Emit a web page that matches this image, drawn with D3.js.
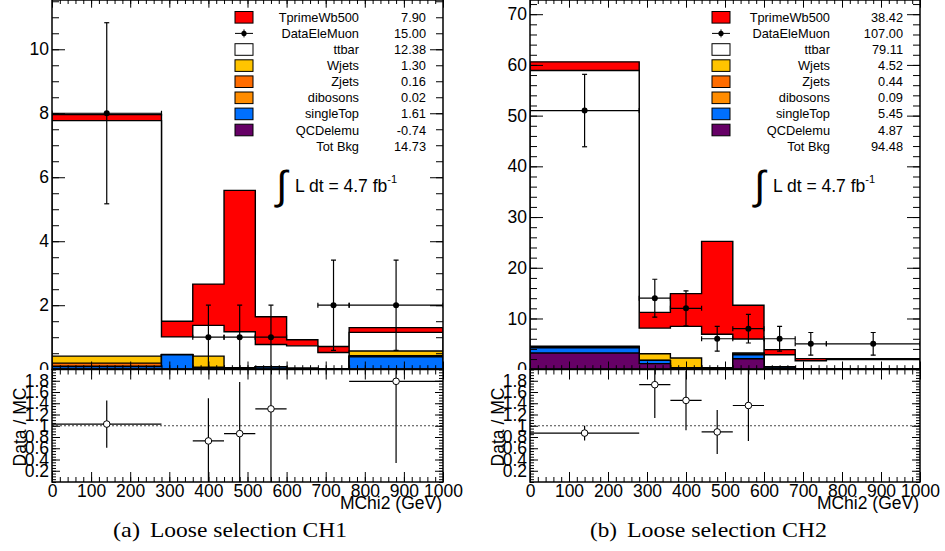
<!DOCTYPE html>
<html>
<head>
<meta charset="utf-8">
<script src="https://cdn.jsdelivr.net/npm/d3@7"></script>
<style>
  body { margin: 0; background: #fff; }
  svg text { font-family: "Liberation Sans", Arial, Helvetica, sans-serif; fill: #000; }
</style>
</head>
<body>
<svg id="chart" width="945" height="551"></svg>
<script>
// binning in MChi2 (GeV)
const binEdges = [0, 280, 360, 440, 520, 600, 680, 760, 1000]
const binCenters = [140, 320, 400, 480, 560, 640, 720, 880]

// stack order, bottom to top
const stackKeys = ["QCDelemu", "singleTop", "dibosons", "Zjets", "Wjets", "ttbar", "TprimeWb500"]

// CH1 per-bin yields
const ch1QCD       = [0, 0, 0, 0, 0, 0, 0, 0]
const ch1SingleTop = [0.08, 0.45, 0.05, 0, 0.07, 0, 0, 0.39]
const ch1Dibosons  = [0.01, 0, 0, 0, 0.01, 0, 0, 0.01]
const ch1Zjets     = [0.10, 0, 0.01, 0, 0, 0, 0, 0.02]
const ch1Wjets     = [0.22, 0.01, 0.35, 0.05, 0, 0.04, 0.01, 0.15]
const ch1Ttbar     = [7.36, 0.55, 0.96, 1.12, 0.69, 0.69, 0.51, 0.58]
const ch1Tprime    = [0.19, 0.49, 1.29, 4.42, 0.87, 0.19, 0.19, 0.15]
const ch1Data      = [8, 0, 1, 1, 1, 0, 2, 2]
const ch1DataErr   = [2.83, 0, 1, 1, 1, 0, 1.41, 1.41]
const ch1RatioX    = [140, 400, 480, 560, 880]
const ch1Ratio     = [1.03, 0.73, 0.86, 1.30, 1.79]
const ch1RatioErr  = [0.42, 0.76, 0.92, 1.30, 1.45]
const ch1Yields    = ["7.90", "15.00", "12.38", "1.30", "0.16", "0.02", "1.61", "-0.74", "14.73"]

// CH2 per-bin yields
const ch2QCD       = [3.2, 1.1, 0, 0, 2.05, 0.2, 0, 0]
const ch2SingleTop = [1.0, 0.65, 0.3, 0.1, 0.8, 0.2, 0.05, 0.05]
const ch2Dibosons  = [0.1, 0, 0, 0, 0.05, 0, 0, 0]
const ch2Zjets     = [0.15, 0, 0, 0.1, 0.1, 0, 0, 0]
const ch2Wjets     = [0.1, 1.3, 1.9, 0.1, 0.2, 0.1, 0.05, 0.05]
const ch2Ttbar     = [54.35, 5.05, 6.25, 6.6, 2.75, 2.36, 1.58, 1.8]
const ch2Tprime    = [1.7, 3.1, 6.45, 18.3, 6.65, 1.0, 0.4, 0.15]
const ch2Data      = [51, 14, 12, 6, 8, 6, 5, 5]
const ch2DataErr   = [7.14, 3.74, 3.46, 2.45, 2.83, 2.45, 2.24, 2.24]
const ch2RatioX    = [140, 320, 400, 480, 560]
const ch2Ratio     = [0.87, 1.73, 1.45, 0.89, 1.36]
const ch2RatioErr  = [0.13, 0.59, 0.53, 0.39, 0.63]
const ch2Yields    = ["38.42", "107.00", "79.11", "4.52", "0.44", "0.09", "5.45", "4.87", "94.48"]

const legendNames = ["TprimeWb500", "DataEleMuon", "ttbar", "Wjets", "Zjets", "dibosons", "singleTop", "QCDelemu", "Tot Bkg"]
const lumiText = "L dt = 4.7 fb"
const ratioTicks = [0.2, 0.4, 0.6, 0.8, 1, 1.2, 1.4, 1.6, 1.8]

const colors = {
    TprimeWb500: "#ff0000",
    ttbar: "#ffffff",
    Wjets: "#ffc400",
    Zjets: "#ff6c00",
    dibosons: "#ff8c00",
    singleTop: "#0070ff",
    QCDelemu: "#660066",
}

const svg = d3.select("svg#chart")

function buildRows(cols) {
    return binCenters.map((c, i) => {
        const row = {bin: i}
        stackKeys.forEach((k, j) => row[k] = cols[j][i])
        return row
    })
}

function drawPanel(p) {
    const zeroY = 369.2, padTop = 0
    const x = d3.scaleLinear().domain([0, 1000]).range([p.left, p.right])
    const y = d3.scaleLinear().domain([0, p.ymax]).range([zeroY, padTop])
    const yr = d3.scaleLinear().domain([0, 2]).range([482, 369.5])

    const g = svg.append("g")
    const clipId = "clip-" + p.id
    g.append("clipPath").attr("id", clipId)
        .append("rect").attr("x", p.left).attr("y", padTop)
        .attr("width", p.right - p.left).attr("height", zeroY - padTop)

    // stack: each cumulative layer drawn as a filled step outline, top first
    const series = d3.stack().keys(stackKeys)(buildRows(p.cols))
    const stepLine = d3.line().x(d => x(d[0])).y(d => y(d[1]))
    const plot = g.append("g").attr("clip-path", `url(#${clipId})`)
    series.slice().reverse().forEach(s => {
        const pts = [[binEdges[0], 0]]
        s.forEach((d, i) => {
            pts.push([binEdges[i], d[1]])
            pts.push([binEdges[i + 1], d[1]])
        })
        pts.push([binEdges[binEdges.length - 1], 0])
        plot.append("path")
            .attr("d", stepLine(pts) + "Z")
            .attr("fill", colors[s.key])
            .attr("stroke", "#000")
            .attr("stroke-width", 1.4)
    })

    // axes of the main pad (ticks inward)
    const xMajor = d3.range(0, 1001, 100), xMinor = d3.range(0, 1001, 20)
    const yMajor = d3.range(0, p.ymax, p.yStep), yMinor = d3.range(0, p.ymax, p.yMinorStep)
    const tickStyle = sel => {
        sel.select(".domain").remove()
        sel.selectAll("line").attr("stroke", "#000")
        sel.selectAll("text").attr("font-size", 17.5).attr("font-family", null)
    }
    g.append("g").attr("transform", `translate(0,${zeroY})`)
        .call(d3.axisBottom(x).tickValues(xMinor).tickSize(-4).tickFormat("")).call(tickStyle)
    g.append("g").attr("transform", `translate(0,${zeroY})`)
        .call(d3.axisBottom(x).tickValues(xMajor).tickSize(-7.7).tickFormat("")).call(tickStyle)
    g.append("g").attr("transform", `translate(0,${padTop})`)
        .call(d3.axisTop(x).tickValues(xMinor).tickSize(-4).tickFormat("")).call(tickStyle)
    g.append("g").attr("transform", `translate(0,${padTop})`)
        .call(d3.axisTop(x).tickValues(xMajor).tickSize(-7.7).tickFormat("")).call(tickStyle)
    g.append("g").attr("transform", `translate(${p.left},0)`)
        .call(d3.axisLeft(y).tickValues(yMinor).tickSize(-7).tickFormat("")).call(tickStyle)
    g.append("g").attr("transform", `translate(${p.left},0)`)
        .call(d3.axisLeft(y).tickValues(yMajor).tickSize(-13).tickPadding(3).tickFormat(d3.format("d"))).call(tickStyle)
    g.append("g").attr("transform", `translate(${p.right},0)`)
        .call(d3.axisRight(y).tickValues(yMinor).tickSize(-7).tickFormat("")).call(tickStyle)
    g.append("g").attr("transform", `translate(${p.right},0)`)
        .call(d3.axisRight(y).tickValues(yMajor).tickSize(-13).tickFormat("")).call(tickStyle)
    g.append("rect").attr("x", p.left).attr("y", padTop)
        .attr("width", p.right - p.left).attr("height", zeroY - padTop)
        .attr("fill", "none").attr("stroke", "#000").attr("stroke-width", 1.5)

    // data points
    const dataG = g.append("g").attr("clip-path", `url(#${clipId})`)
        .attr("stroke", "#000").attr("stroke-width", 1.2)
    p.data.forEach((v, i) => {
        if (v <= 0) return
        const e = p.dataErr[i], cx = x(binCenters[i]), cy = y(v)
        const x0 = x(binEdges[i]), x1 = x(binEdges[i + 1])
        const y0 = y(Math.max(0, v - e)), y1 = y(v + e)
        dataG.append("line").attr("x1", x0).attr("x2", x1).attr("y1", cy).attr("y2", cy)
        dataG.append("line").attr("x1", cx).attr("x2", cx).attr("y1", y0).attr("y2", y1)
        dataG.append("line").attr("x1", cx - 2.5).attr("x2", cx + 2.5).attr("y1", y1).attr("y2", y1)
        if (v - e > 0) dataG.append("line").attr("x1", cx - 2.5).attr("x2", cx + 2.5).attr("y1", y0).attr("y2", y0)
        dataG.append("line").attr("x1", x0).attr("x2", x0).attr("y1", cy - 2.5).attr("y2", cy + 2.5)
        dataG.append("line").attr("x1", x1).attr("x2", x1).attr("y1", cy - 2.5).attr("y2", cy + 2.5)
        dataG.append("circle").attr("cx", cx).attr("cy", cy).attr("r", 3).attr("fill", "#000").attr("stroke", "none")
    })

    // legend
    const leg = g.append("g")
    legendNames.forEach((name, i) => {
        const ry = 17.3 + i * 16.1
        if (i === 1) {
            leg.append("line").attr("x1", p.legX).attr("x2", p.legX + 18).attr("y1", ry).attr("y2", ry).attr("stroke", "#000")
            leg.append("line").attr("x1", p.legX + 9).attr("x2", p.legX + 9).attr("y1", ry - 4).attr("y2", ry + 4).attr("stroke", "#000")
            leg.append("circle").attr("cx", p.legX + 9).attr("cy", ry).attr("r", 2.6).attr("fill", "#000")
        } else if (i < 8) {
            leg.append("rect").attr("x", p.legX).attr("y", ry - 5.8).attr("width", 18).attr("height", 11.6)
                .attr("fill", colors[name]).attr("stroke", "#000").attr("stroke-width", 1)
        }
        leg.append("text").attr("x", p.legNameX).attr("y", ry + 4.5).attr("text-anchor", "end")
            .attr("font-size", 12.8).attr("fill", "#111").text(name)
        leg.append("text").attr("x", p.legValX).attr("y", ry + 4.5).attr("text-anchor", "end")
            .attr("font-size", 12.8).attr("fill", "#111").text(p.yields[i])
    })

    // luminosity label
    g.append("text").attr("x", p.lumiX - 19).attr("y", 199).attr("font-size", 40)
        .attr("font-family", "DejaVu Sans").text("\u222B")
    const lt = g.append("text").attr("x", p.lumiX).attr("y", 192).attr("font-size", 17.5)
    lt.append("tspan").text(lumiText)
    lt.append("tspan").attr("dy", -9).attr("font-size", 11).text("-1")

    // ratio pad
    const r = svg.append("g")
    r.append("rect").attr("x", p.left - 55).attr("y", 369.9).attr("width", p.right - p.left + 80).attr("height", 130).attr("fill", "#fff")
    const rClip = "rclip-" + p.id
    r.append("clipPath").attr("id", rClip)
        .append("rect").attr("x", p.left).attr("y", 369.5).attr("width", p.right - p.left).attr("height", 482 - 369.5)

    r.append("line").attr("x1", p.left).attr("x2", p.right).attr("y1", yr(1)).attr("y2", yr(1))
        .attr("stroke", "#444").attr("stroke-width", 1).attr("stroke-dasharray", "2,2")

    const rMinor = d3.range(0, 2.001, 0.05)
    r.append("g").attr("transform", "translate(0,482)")
        .call(d3.axisBottom(x).tickValues(xMinor).tickSize(-5).tickFormat("")).call(tickStyle)
    r.append("g").attr("transform", "translate(0,482)")
        .call(d3.axisBottom(x).tickValues(xMajor).tickSize(-10).tickPadding(3).tickFormat(d3.format("d"))).call(tickStyle)
    r.append("g").attr("transform", "translate(0,369.5)")
        .call(d3.axisTop(x).tickValues(xMinor).tickSize(-5).tickFormat("")).call(tickStyle)
    r.append("g").attr("transform", "translate(0,369.5)")
        .call(d3.axisTop(x).tickValues(xMajor).tickSize(-10).tickFormat("")).call(tickStyle)
    r.append("g").attr("transform", `translate(${p.left},0)`)
        .call(d3.axisLeft(yr).tickValues(rMinor).tickSize(-4).tickFormat("")).call(tickStyle)
    r.append("g").attr("transform", `translate(${p.left},0)`)
        .call(d3.axisLeft(yr).tickValues(ratioTicks).tickSize(-8).tickPadding(3).tickFormat(d => String(+d.toFixed(1)))).call(tickStyle)
    r.append("g").attr("transform", `translate(${p.right},0)`)
        .call(d3.axisRight(yr).tickValues(rMinor).tickSize(-4).tickFormat("")).call(tickStyle)
    r.append("g").attr("transform", `translate(${p.right},0)`)
        .call(d3.axisRight(yr).tickValues(ratioTicks).tickSize(-8).tickFormat("")).call(tickStyle)
    r.append("rect").attr("x", p.left).attr("y", 369.5).attr("width", p.right - p.left).attr("height", 482 - 369.5)
        .attr("fill", "none").attr("stroke", "#000").attr("stroke-width", 1.5)

    const rp = r.append("g").attr("clip-path", `url(#${rClip})`).attr("stroke", "#000").attr("stroke-width", 1.2)
    p.ratioX.forEach((c, i) => {
        const b = d3.bisectRight(binEdges, c) - 1
        const v = p.ratio[i], e = p.ratioErr[i]
        const cx = x(c), cy = yr(v)
        rp.append("line").attr("x1", x(binEdges[b])).attr("x2", x(binEdges[b + 1])).attr("y1", cy).attr("y2", cy)
        rp.append("line").attr("x1", cx).attr("x2", cx).attr("y1", yr(Math.max(0, v - e))).attr("y2", yr(v + e))
        rp.append("circle").attr("cx", cx).attr("cy", cy).attr("r", 3.3).attr("fill", "#fff").attr("stroke-width", 1)
    })

    r.append("text").attr("transform", `translate(${p.left - 26},427) rotate(-90)`)
        .attr("text-anchor", "middle").attr("font-size", 17.5).text("Data / MC")
    r.append("text").attr("x", p.right - 1).attr("y", 509).attr("text-anchor", "end")
        .attr("font-size", 17.5).text("MChi2 (GeV)")

    // sub-figure caption
    const cap = svg.append("g")
    cap.append("text").attr("x", p.capX).attr("y", 537).attr("font-size", 21)
        .style("font-family", "Liberation Serif, Times New Roman, serif")
        .attr("textLength", 27).attr("lengthAdjust", "spacingAndGlyphs").text(p.capLabel)
    cap.append("text").attr("x", p.capX + 37).attr("y", 537).attr("font-size", 21)
        .style("font-family", "Liberation Serif, Times New Roman, serif")
        .attr("textLength", p.capLen).attr("lengthAdjust", "spacingAndGlyphs").text(p.capText)
}

drawPanel({
    id: "ch1", left: 52, right: 443, ymax: 11.54, yStep: 2, yMinorStep: 0.5,
    cols: [ch1QCD, ch1SingleTop, ch1Dibosons, ch1Zjets, ch1Wjets, ch1Ttbar, ch1Tprime],
    data: ch1Data, dataErr: ch1DataErr,
    ratioX: ch1RatioX, ratio: ch1Ratio, ratioErr: ch1RatioErr,
    yields: ch1Yields, legX: 235, legNameX: 359, legValX: 426, lumiX: 295,
    capX: 113, capLabel: "(a)", capText: "Loose selection CH1", capLen: 197,
})

drawPanel({
    id: "ch2", left: 530, right: 920, ymax: 72.8, yStep: 10, yMinorStep: 2,
    cols: [ch2QCD, ch2SingleTop, ch2Dibosons, ch2Zjets, ch2Wjets, ch2Ttbar, ch2Tprime],
    data: ch2Data, dataErr: ch2DataErr,
    ratioX: ch2RatioX, ratio: ch2Ratio, ratioErr: ch2RatioErr,
    yields: ch2Yields, legX: 712, legNameX: 830, legValX: 903, lumiX: 773,
    capX: 590, capLabel: "(b)", capText: "Loose selection CH2", capLen: 200,
})
</script>
</body>
</html>
